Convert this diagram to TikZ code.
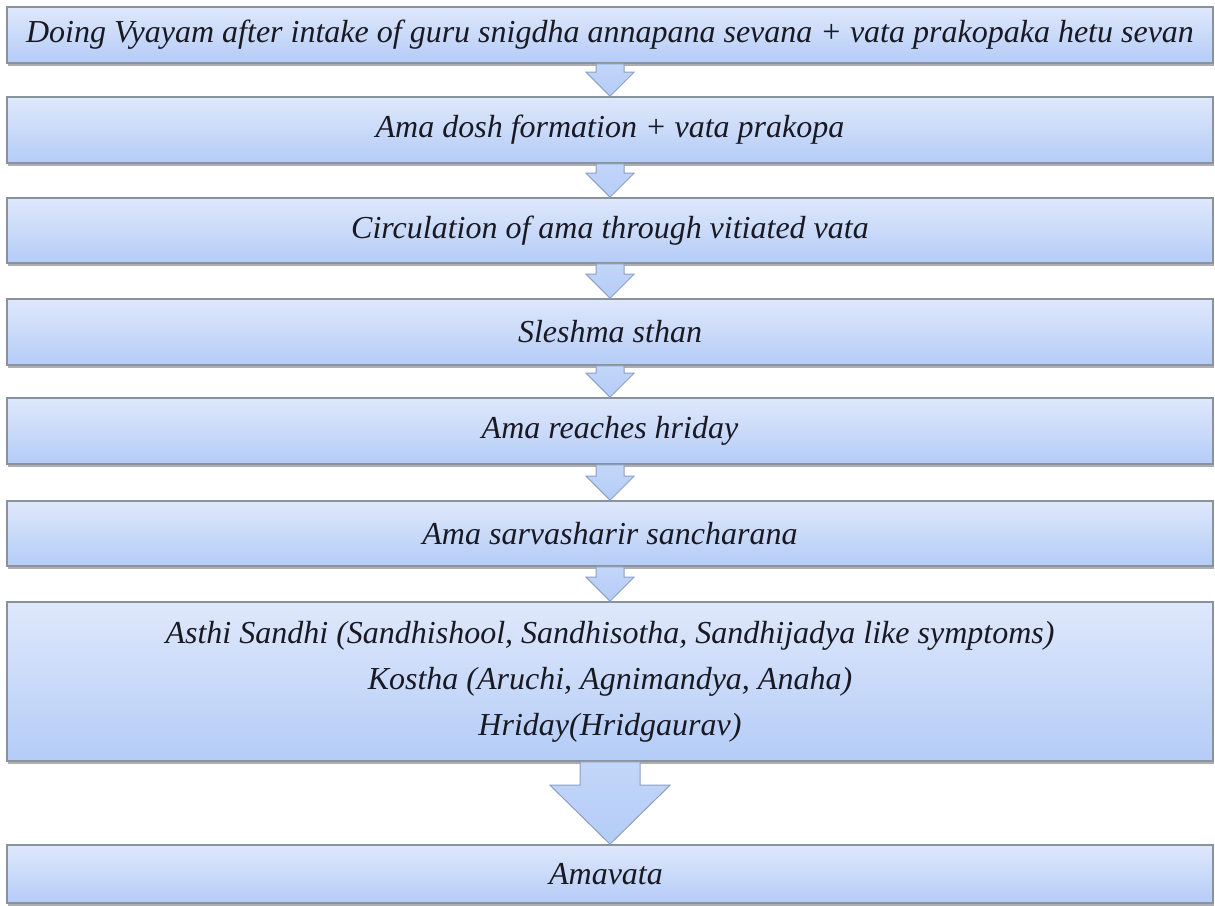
\documentclass[tikz,border=0pt]{standalone}
\usepackage{fontspec}
\setmainfont{Liberation Serif}
\usetikzlibrary{calc,shadows}

\definecolor{boxtop}{RGB}{223,232,251}
\definecolor{boxbot}{RGB}{180,204,247}
\definecolor{boxline}{RGB}{138,146,158}
\definecolor{arrowline}{RGB}{140,160,196}
\definecolor{inktext}{RGB}{25,25,35}

\tikzset{
  stagebox/.style={draw=boxline, line width=0.8pt, top color=boxtop, bottom color=boxbot,
    minimum width=603pt, inner sep=0pt, align=center, text=inktext,
    font=\fontsize{16}{23}\selectfont\itshape,
    drop shadow={shadow xshift=0.6pt, shadow yshift=-1.6pt, fill=black!70, opacity=0.45}},
  arrowfill/.style={draw=arrowline, line width=0.5pt, top color=boxbot!80!white, bottom color=boxbot}
}

\begin{document}
\begin{tikzpicture}[x=0.5pt,y=-0.5pt]
\useasboundingbox (0,0) rectangle (1215,905);

\foreach \n/\top/\bot/\txt in {
    1/7/63/{Doing Vyayam after intake of guru snigdha annapana sevana + vata prakopaka hetu sevan},
    2/97/163/{Ama dosh formation + vata prakopa},
    3/198/263/{Circulation of ama through vitiated vata},
    4/299/365/{Sleshma sthan},
    5/398/464/{Ama reaches hriday},
    6/501/566/{Ama sarvasharir sancharana},
    7/602/761/{Asthi Sandhi (Sandhishool, Sandhisotha, Sandhijadya like symptoms)\\Kostha (Aruchi, Agnimandya, Anaha)\\Hriday(Hridgaurav)},
    8/845/903/{Amavata}
  }
  {
    \pgfmathsetmacro\boxh{(\bot-\top)/2}
    \node[stagebox, minimum height=\boxh pt] (b\n) at (610,{(\top+\bot)/2}) {\txt};
  }

% small block arrows between the stages
\foreach \a/\b in {1/2,2/3,3/4,4/5,5/6,6/7}
  \path[arrowfill] ($(b\a.south)+(-14,0)$) -- ($(b\a.south)+(14,0)$)
    -- ($(b\b.north)+(14,-24)$) -- ($(b\b.north)+(24,-24)$) -- (b\b.north)
    -- ($(b\b.north)+(-24,-24)$) -- ($(b\b.north)+(-14,-24)$) -- cycle;

% big arrow to the result
\path[arrowfill] ($(b7.south)+(-30,0)$) -- ($(b7.south)+(30,0)$)
  -- ($(b8.north)+(30,-59)$) -- ($(b8.north)+(60,-59)$) -- (b8.north)
  -- ($(b8.north)+(-60,-59)$) -- ($(b8.north)+(-30,-59)$) -- cycle;
\end{tikzpicture}
\end{document}
